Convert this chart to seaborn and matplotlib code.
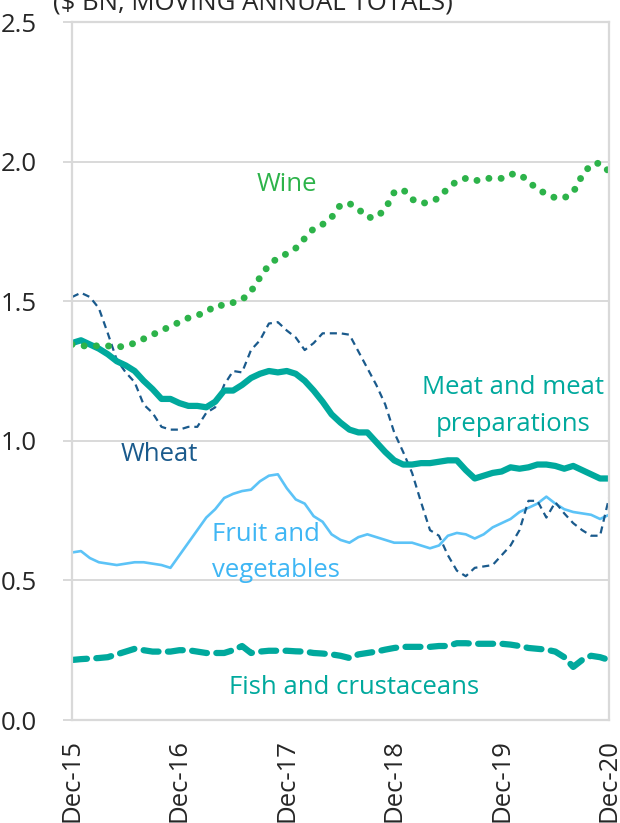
import numpy as np
import pandas as pd
import matplotlib
matplotlib.use('Agg')
import matplotlib.pyplot as plt
import seaborn as sns

# monthly moving annual totals, $bn, Dec-15 .. Dec-20
months = pd.date_range('2015-12-01', '2020-12-01', freq='MS')
tick_labels = ['Dec-15', 'Dec-16', 'Dec-17', 'Dec-18', 'Dec-19', 'Dec-20']

wine = [1.345, 1.34, 1.34, 1.34, 1.34, 1.335, 1.34, 1.35, 1.365, 1.38,
        1.395, 1.41, 1.425, 1.44, 1.45, 1.46, 1.485, 1.485, 1.495, 1.505,
        1.535, 1.585, 1.63, 1.655, 1.67, 1.69, 1.725, 1.76, 1.775, 1.80,
        1.845, 1.85, 1.83, 1.80, 1.80, 1.83, 1.89, 1.90, 1.865, 1.85,
        1.855, 1.87, 1.905, 1.93, 1.94, 1.93, 1.94, 1.94, 1.94, 1.955,
        1.955, 1.93, 1.90, 1.885, 1.87, 1.87, 1.89, 1.95, 1.99, 1.995, 1.965]

meat = [1.35, 1.36, 1.345, 1.33, 1.31, 1.285, 1.27, 1.25, 1.215, 1.185,
        1.15, 1.15, 1.135, 1.125, 1.125, 1.12, 1.14, 1.18, 1.18, 1.20,
        1.225, 1.24, 1.25, 1.245, 1.25, 1.24, 1.215, 1.18, 1.14, 1.095,
        1.065, 1.04, 1.03, 1.03, 0.995, 0.96, 0.93, 0.915, 0.915, 0.92,
        0.92, 0.925, 0.93, 0.93, 0.895, 0.865, 0.875, 0.885, 0.89, 0.905,
        0.90, 0.905, 0.915, 0.915, 0.91, 0.90, 0.91, 0.895, 0.88, 0.865, 0.865]

wheat = [1.515, 1.53, 1.515, 1.475, 1.385, 1.29, 1.245, 1.21, 1.13, 1.10,
         1.05, 1.04, 1.04, 1.05, 1.05, 1.10, 1.12, 1.20, 1.25, 1.245,
         1.325, 1.36, 1.42, 1.425, 1.395, 1.37, 1.325, 1.35, 1.385, 1.385,
         1.385, 1.38, 1.32, 1.26, 1.20, 1.13, 1.03, 0.96, 0.885, 0.78,
         0.68, 0.66, 0.59, 0.535, 0.515, 0.545, 0.55, 0.555, 0.59, 0.625,
         0.68, 0.785, 0.785, 0.725, 0.78, 0.74, 0.705, 0.68, 0.66, 0.66, 0.795]

fruit = [0.60, 0.605, 0.58, 0.565, 0.56, 0.555, 0.56, 0.565, 0.565, 0.56,
         0.555, 0.545, 0.59, 0.635, 0.68, 0.725, 0.755, 0.795, 0.81, 0.82,
         0.825, 0.855, 0.875, 0.88, 0.83, 0.79, 0.775, 0.73, 0.71, 0.665,
         0.645, 0.635, 0.655, 0.665, 0.655, 0.645, 0.635, 0.635, 0.635, 0.625,
         0.615, 0.625, 0.66, 0.67, 0.665, 0.65, 0.665, 0.69, 0.705, 0.72,
         0.745, 0.76, 0.775, 0.80, 0.775, 0.755, 0.745, 0.74, 0.735, 0.72, 0.735]

fish = [0.215, 0.218, 0.22, 0.222, 0.225, 0.235, 0.245, 0.255, 0.25, 0.245,
        0.245, 0.245, 0.25, 0.25, 0.245, 0.24, 0.24, 0.24, 0.25, 0.265,
        0.24, 0.245, 0.248, 0.248, 0.248, 0.246, 0.245, 0.24, 0.238, 0.235,
        0.23, 0.222, 0.235, 0.24, 0.245, 0.252, 0.258, 0.262, 0.262, 0.262,
        0.262, 0.265, 0.265, 0.275, 0.275, 0.273, 0.273, 0.273, 0.273, 0.27,
        0.265, 0.258, 0.255, 0.252, 0.245, 0.225, 0.19, 0.215, 0.23, 0.225, 0.215]

GREEN = '#2db34a'
TEAL = '#00a99d'
NAVY = '#1a5a8c'
LIGHT = '#5cc3f7'
GRID = '#d9d9d9'

sns.set_style('white')
plt.rcParams['font.family'] = ['Open Sans', 'DejaVu Sans']

df = pd.DataFrame({'month': np.arange(len(months)), 'wine': wine, 'meat': meat,
                   'wheat': wheat, 'fruit': fruit, 'fish': fish})

fig = plt.figure(figsize=(6.2, 8.23), dpi=100)
ax = fig.add_axes([72 / 620, 103 / 823, 537 / 620, 698 / 823])

sns.lineplot(data=df, x='month', y='fish', ax=ax, color=TEAL, linewidth=4.5,
             linestyle=(0, (2.4, 1.5)), dash_capstyle='round')
sns.lineplot(data=df, x='month', y='fruit', ax=ax, color=LIGHT, linewidth=1.9)
sns.lineplot(data=df, x='month', y='wheat', ax=ax, color=NAVY, linewidth=1.6,
             linestyle=(0, (3.2, 2.2)))
sns.lineplot(data=df, x='month', y='meat', ax=ax, color=TEAL, linewidth=4.5)
sns.lineplot(data=df, x='month', y='wine', ax=ax, color=GREEN, linewidth=5,
             linestyle=(0, (0.01, 1.75)), dash_capstyle='round')

fs = 18.5
ax.set_xlim(0, 60)
ax.set_ylim(0, 2.5)
ax.set_yticks(np.arange(0, 2.51, 0.5))
ax.set_yticklabels([f'{v:.1f}' for v in np.arange(0, 2.51, 0.5)], fontsize=fs)
ax.set_xticks(np.arange(0, 61, 12))
ax.set_xticklabels(tick_labels, rotation=90, fontsize=fs)
ax.set_xlabel('')
ax.set_ylabel('')
ax.grid(axis='y', color=GRID, linewidth=1.4)
ax.set_axisbelow(True)
for s in ax.spines.values():
    s.set_color(GRID)
    s.set_linewidth(1.6)
ax.tick_params(axis='x', direction='inout', length=11.5, width=1.4, color=GRID, pad=8)
ax.tick_params(axis='y', direction='out', length=6.5, width=1.4, color=GRID, pad=19,
               left=True)

ax.text(24.05, 1.917, 'Wine', color=GREEN, fontsize=fs, ha='center', va='center')
ax.text(49.3, 1.125, 'Meat and meat\npreparations', color=TEAL, fontsize=fs,
        ha='center', va='center', linespacing=1.6)
ax.text(9.73, 0.95, 'Wheat', color=NAVY, fontsize=fs, ha='center', va='center')
ax.text(15.66, 0.60, 'Fruit and\nvegetables', color='#3fb6f4', fontsize=fs,
        ha='left', va='center', linespacing=1.6)
ax.text(31.5, 0.115, 'Fish and crustaceans', color=TEAL, fontsize=fs,
        ha='center', va='center')

fig.text(53 / 620, 1 - 10 / 823, '($ BN, MOVING ANNUAL TOTALS)', fontsize=fs,
         ha='left', va='baseline')

fig.savefig('out.png', dpi=100)
